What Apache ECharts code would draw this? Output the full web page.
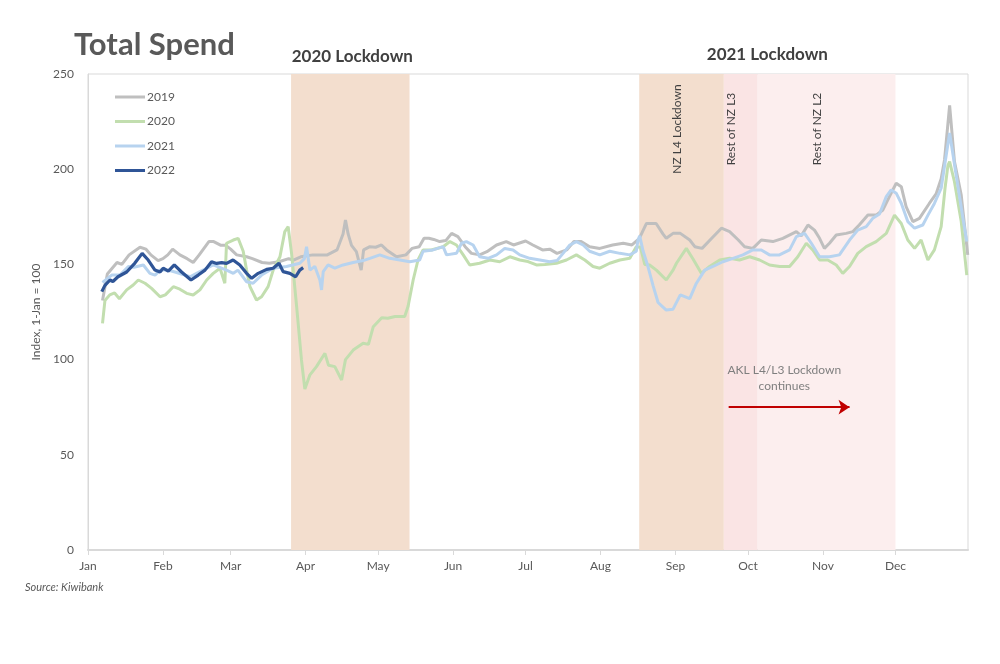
<!DOCTYPE html>
<html><head><meta charset="utf-8">
<script src="https://cdn.jsdelivr.net/npm/echarts@6/dist/echarts.min.js"></script>
<style>html,body{margin:0;padding:0;background:#fff}#c{width:1000px;height:664px}</style>
</head><body><div id="c"></div>
<script>
// ---- data (x = day of year, 0 = 1 Jan) ----
const monthDays = [0,31,59,90,120,151,181,212,243,273,304,334];
const monthLabels = ['Jan','Feb','Mar','Apr','May','Jun','Jul','Aug','Sep','Oct','Nov','Dec'];
const seriesNames = ['2019','2020','2021','2022'];

const days2019 = [6,8,10,12,14,17,21.5,24,26,29,31,33,35,38,41,43.5,46,50,52,55,57,59,61.5,65.6,68,72,75,79,83,85,88,93,99,103,105.5,106.5,107.6,109,111,113,114,116.6,119,121.4,123.5,127.6,131.5,134,137,139,141,143,145.5,148,150.4,153,156,158.6,162,165,169,173,176,181,184,188,191,194,198,201,204,207.5,211.7,217,221.4,225,228,231,235,237.8,239.2,242,245,248.9,251,254,258,262,265.4,269,271.6,275,278.5,283.3,287.4,293,295,297.8,300.5,302.6,304.6,306.7,309.5,313.6,316.4,319,322.6,326,328.8,331.5,334.3,336.4,338.4,341.2,343.9,348,350.8,352.9,354.3,356.4,358.4,361.2,363.9];
const vals2019 = [131,145,148,151,150,155,159,158,155,152,153,155,158,155,153,151,155,162,162,160,160,158,155,154,153,151,150.6,151.4,153,152.3,154,155,155,157.6,166,173.3,166,160,156.7,147,157.6,159.3,159,160.2,157.6,154,155,158.4,159.3,163.7,163.7,163.1,162,162.5,166.3,164.6,159.3,155.8,155,156.7,160.2,162,160.2,162.3,160.2,157.6,158,155.8,157.6,162,162,159.3,158.4,160.2,161.1,160.2,163.5,171.5,171.5,166,163.7,166.3,166.3,162.8,159.3,158.4,163.7,169,167.2,162.8,159.3,158.4,162.8,162,163.7,167.2,165,170.7,168,163.7,158.4,161.1,165.4,166.3,167.2,170.7,175.9,175.9,178.6,185.6,192.6,190.8,180.3,172.5,174.2,182,187,195,205,233.5,204,186.4,155];

const days2020 = [6,7,9,11,13,16,18.7,20.8,23.6,26.3,29.8,32,35.3,38,40.8,43.5,46.3,49.1,51.8,54.6,56.6,57.3,60.1,62.1,64.2,65.6,67,69.7,71.8,74.5,76.6,79.4,81.4,82.8,84.2,86.3,88.3,89.7,91.8,94.5,98,99.5,102.1,104.9,106.5,109.7,113.8,116,118,121.5,124,127,131,132.4,134.5,136.5,138.6,142,146.9,149.7,152.4,155.2,157.9,162,166.2,170.3,174.5,178.6,182,185.5,189,193.8,197.9,202,205.5,208.9,211.7,215.8,220,224.1,226.8,228.5,230.3,232.3,235.1,239.2,242,243.4,247.5,250.2,253.7,257.1,261.3,265.4,269.5,273.7,277.8,281.9,286.1,290.2,293.6,297.1,299.8,302.6,306,309.5,312.2,315,318.4,321.9,326,330.2,333.6,336.4,339.1,341.9,344.6,347.4,350.1,352.9,354.5,355.7,356.4,358.4,361.2,363.5];
const vals2020 = [119,131,134,135,132,136.6,139.2,141.8,140.1,137.4,133,134,138.3,137,134.8,133.9,136.6,141.8,145.3,148,140.1,161.1,162.8,163.7,156.9,147,138.3,131.3,133,138.3,147,154,167.2,169.8,155.8,127.8,99.8,84.5,92,96.3,103.3,97,96.3,89.3,100,105,108.6,108,117.3,122,121.7,122.6,122.6,128,141.8,152.3,157.6,157.6,159.3,162,160.2,155,149.7,150.6,152.3,151.4,154,152.3,151.5,149.7,150,150.6,152.3,155,152.3,148.9,148,150.6,152.3,153.2,159.3,159,150,149.7,147,141.8,147,150.6,158.4,153,145.3,148.9,152.3,153.2,152.3,154,152.3,149.7,148.9,148.9,154,161.1,157.6,152.3,152.3,149.7,145.3,148.9,155.8,159.3,162,166.3,175.9,171.5,162.8,158.4,162.8,152.3,157.6,169.8,190,202,204,193.4,172.5,144.4];

const days2021 = [6,9.8,13.2,16.7,19,22.9,25.6,27.7,29.8,33,36,42.2,46.3,51.8,57.3,60.1,62,65.6,68.3,71.8,76.6,82.1,87.6,89.5,90.4,91.8,93.8,95.9,96.6,97.3,99.3,102.1,105.5,109.7,113.8,116.6,120.7,124.8,129,133.1,137.2,138.6,142.7,146.9,148.3,152.4,154.5,156.5,159.3,162,165.5,169,172.4,175.8,178.6,182.7,186.9,191,194,196.5,199.3,202,204.8,207.5,211.7,215.8,220,224.1,226.8,227.5,228.2,229.6,231.6,233.7,235.8,237.5,239.2,242,245,248.9,251.6,255.1,258.5,262.6,266.8,270.9,275,278.5,281.9,286,290.2,293,296.4,299.2,302.6,306.7,310.8,315,318.4,321.9,324.6,327.4,330.2,332.2,334.3,336.4,339.1,341.9,345.3,347.5,350.1,352.9,355,356.4,359.1,361.9,363.5];
const vals2021 = [140.5,144.4,144.4,148.9,148.5,149.7,145.3,144.4,147,147,146,143.5,146.2,149.7,147,145.3,147,140.9,140.1,144.4,148,148.9,150.6,153,159.3,147,149,141.8,136.6,146.2,149.7,148,149.7,151,152,153.2,155,153.2,152.3,151.4,152.3,156.9,157.6,159.3,155,155.8,161.1,162,160.2,154,153.2,155,158.4,157.6,155,153.2,152.3,151.4,152,155.8,160.2,162,160.2,156.9,155,156.9,155.8,155,156.9,162.8,165,157,149,139,130,128,126,126.5,134,132,140,147,148.9,151.4,153.2,155,157.6,157.6,155,155,157.6,164.6,166.3,161.1,154,154,155,162.8,168,169.8,174.2,176.5,185.6,189.1,187.4,182.1,172.5,169,170.7,176,182,190,207.5,219,197,174.2,162];

const days2022 = [5.7,7,9.1,10.3,12.4,16,19.4,22.4,24.9,27.7,29.8,31.1,33.2,35.7,38.7,42.6,45.6,48.4,51.1,53.2,55.3,57.3,60,62.8,65.6,67.7,70.4,73.9,76.6,79,80.7,83.5,85.9,87.6,89];
const vals2022 = [135.7,139,141.8,141,143.5,146,150.7,155.8,152.3,147,146,148,146.5,149.7,146,141.8,144.4,147,151.4,150.5,150.9,150.5,152.3,149.7,145.3,142.7,145.3,147.4,148,150.6,146.2,145.3,143.5,147,148.3];

// shaded lockdown periods (day of year)
const shadeFrom = [84, 228, 263, 277];
const shadeTo   = [133, 263, 277, 334];
const shadeText = ['', 'NZ L4 Lockdown', 'Rest of NZ L3', 'Rest of NZ L2'];
// arrow annotation (day, value)
const arrowFrom = [265, 75];
const arrowTo   = [315, 75];

// ---- chart ----
const FONT = 'Lato, "Open Sans", sans-serif';
const zip = (d, v) => d.map((x, i) => [x, v[i]]);
const lineColors = ['#BFBFBF', '#C2DEAF', '#B7D3EF', '#2F5597'];
const lineWidths = [3, 3, 3, 3.2];
const shadeColors = ['#F3DECE', '#F3DECE', '#FAE4E4', '#FCEEEE'];
const allData = [zip(days2019, vals2019), zip(days2020, vals2020), zip(days2021, vals2021), zip(days2022, vals2022)];

const chart = echarts.init(document.getElementById('c'), null, {renderer: 'canvas'});

const series = [{
  type: 'line', name: '_shade', data: [], silent: true, z: 0,
  markArea: {
    silent: true,
    data: shadeFrom.map((f, i) => [{xAxis: f, itemStyle: {color: shadeColors[i]}}, {xAxis: shadeTo[i]}])
  },
  markLine: {
    silent: true, symbol: ['none', 'arrow'], symbolSize: 11,
    lineStyle: {color: '#C00000', width: 2, type: 'solid'},
    itemStyle: {color: '#C00000'},
    label: {show: false},
    data: [[{coord: arrowFrom}, {coord: arrowTo}]]
  }
}];
seriesNames.forEach((n, i) => {
  series.push({
    type: 'line', name: n, data: allData[i], showSymbol: false, symbol: 'none',
    z: 2 + i, lineStyle: {color: lineColors[i], width: lineWidths[i]},
    itemStyle: {color: lineColors[i]}, emphasis: {disabled: true}, animation: false
  });
});

chart.setOption({
  animation: false,
  textStyle: {fontFamily: FONT},
  title: {
    text: 'Total Spend', left: 69, top: 24,
    textStyle: {fontFamily: FONT, fontSize: 31, fontWeight: 'bold', color: '#595959'}
  },
  legend: {
    data: seriesNames, orient: 'vertical', left: 110, top: 86,
    icon: 'rect', itemWidth: 30, itemHeight: 3, itemGap: 12.5,
    textStyle: {fontFamily: FONT, fontSize: 12, color: '#595959', padding: [0, 0, 0, -3]}
  },
  grid: {left: 88, right: 32, top: 74, bottom: 114, show: true, borderColor: '#D9D9D9', borderWidth: 1, containLabel: false},
  xAxis: {
    type: 'value', min: 0, max: 364,
    axisLine: {show: true, lineStyle: {color: '#D9D9D9', width: 2}},
    axisTick: {show: true, customValues: monthDays, length: 5, lineStyle: {color: '#D9D9D9'}},
    axisLabel: {
      customValues: monthDays, margin: 10,
      formatter: v => monthLabels[monthDays.indexOf(v)] || '',
      fontFamily: FONT, fontSize: 12, color: '#595959'
    },
    splitLine: {show: false}
  },
  yAxis: {
    type: 'value', min: 0, max: 250, interval: 50,
    name: 'Index, 1-Jan = 100', nameLocation: 'middle', nameGap: 44, nameRotate: 90,
    nameTextStyle: {fontFamily: FONT, fontSize: 12, color: '#595959'},
    axisLine: {show: true, lineStyle: {color: '#D9D9D9'}},
    axisTick: {show: false},
    axisLabel: {fontFamily: FONT, fontSize: 12, color: '#595959', margin: 14},
    splitLine: {show: false}
  },
  series: series
});

// annotations positioned from data coordinates
const px = (d, v) => chart.convertToPixel({gridIndex: 0}, [d, v]);
const g = [];
const mid1 = px((shadeFrom[0] + shadeTo[0]) / 2, 250);
g.push({type: 'text', z: 100, x: mid1[0] + 2, y: 57, style: {text: '2020 Lockdown', fontFamily: FONT, fontSize: 17, fontWeight: 'bold', fill: '#404040', align: 'center', verticalAlign: 'middle'}});
const mid2 = px((shadeFrom[1] + shadeTo[3]) / 2, 250);
g.push({type: 'text', z: 100, x: mid2[0], y: 55, style: {text: '2021 Lockdown', fontFamily: FONT, fontSize: 17, fontWeight: 'bold', fill: '#404040', align: 'center', verticalAlign: 'middle'}});
const vOffsets = [0, -2, -4, -4];
for (let i = 1; i < shadeFrom.length; i++) {
  const p = px((shadeFrom[i] + shadeTo[i]) / 2 + vOffsets[i], 220);
  g.push({type: 'text', z: 100, x: p[0], y: 129, rotation: Math.PI / 2,
    style: {text: shadeText[i], fontFamily: FONT, fontSize: 12, fill: '#404040', align: 'center', verticalAlign: 'middle'}});
}
const tp = px((arrowFrom[0] + arrowTo[0]) / 2 - 2, 98.5);
g.push({type: 'text', z: 100, x: tp[0], y: tp[1], style: {text: 'AKL L4/L3 Lockdown\ncontinues', fontFamily: FONT, fontSize: 12, lineHeight: 16, fill: '#7F7F7F', align: 'center', verticalAlign: 'top'}});
g.push({type: 'text', z: 100, left: 25, top: 582, style: {text: 'Source: Kiwibank', fontFamily: FONT, fontSize: 11, fontStyle: 'italic', fill: '#595959'}});
chart.setOption({graphic: g});
</script>
</body></html>
